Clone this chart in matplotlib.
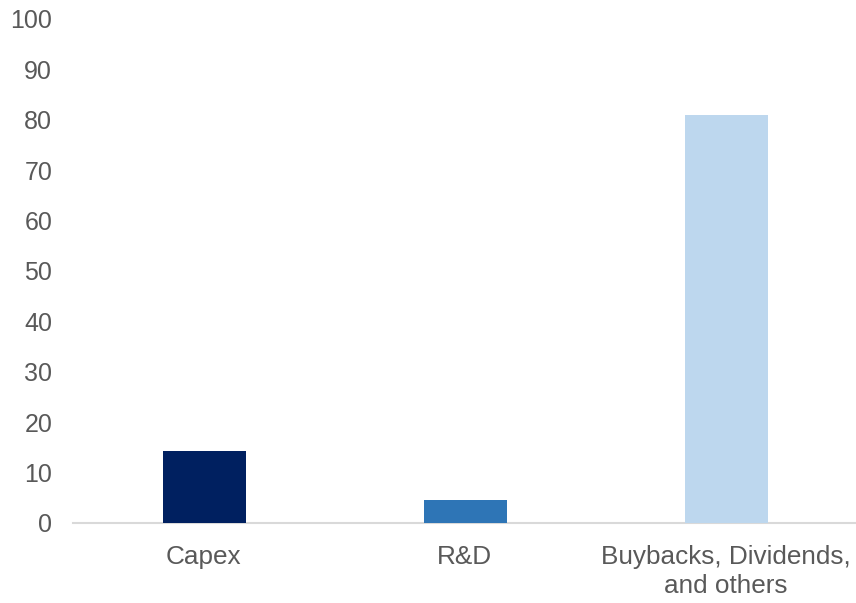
import matplotlib.pyplot as plt

categories = ['Capex', 'R&D', 'Buybacks, Dividends,\nand others']
values = [14.2, 4.5, 81.0]
bar_colors = ['#002060', '#2E75B6', '#BDD7EE']

plt.rcParams['font.family'] = ['Liberation Sans', 'DejaVu Sans']

fig = plt.figure(figsize=(8.56, 6.03), dpi=100)
ax = fig.add_axes([0.0853, 0.1327, 0.9147, 0.8358])

x = range(len(categories))
ax.bar([i + 0.005 for i in x], values, width=0.317, color=bar_colors, zorder=2)

ax.set_xlim(-0.5, 2.5)
ax.set_ylim(0, 100)
ax.set_yticks(range(0, 101, 10))
ax.set_xticks(list(x))
ax.set_xticklabels(categories, linespacing=1.25, fontsize=18.8)

for s in ['top', 'right', 'left']:
    ax.spines[s].set_visible(False)
ax.spines['bottom'].set_color('#D9D9D9')
ax.spines['bottom'].set_linewidth(1.5)
ax.spines['bottom'].set_zorder(1)

ax.tick_params(axis='y', length=0, labelsize=18, labelcolor='#595959', pad=15)
ax.tick_params(axis='x', length=0, labelcolor='#595959', pad=16)

fig.savefig('out.png', dpi=100)
